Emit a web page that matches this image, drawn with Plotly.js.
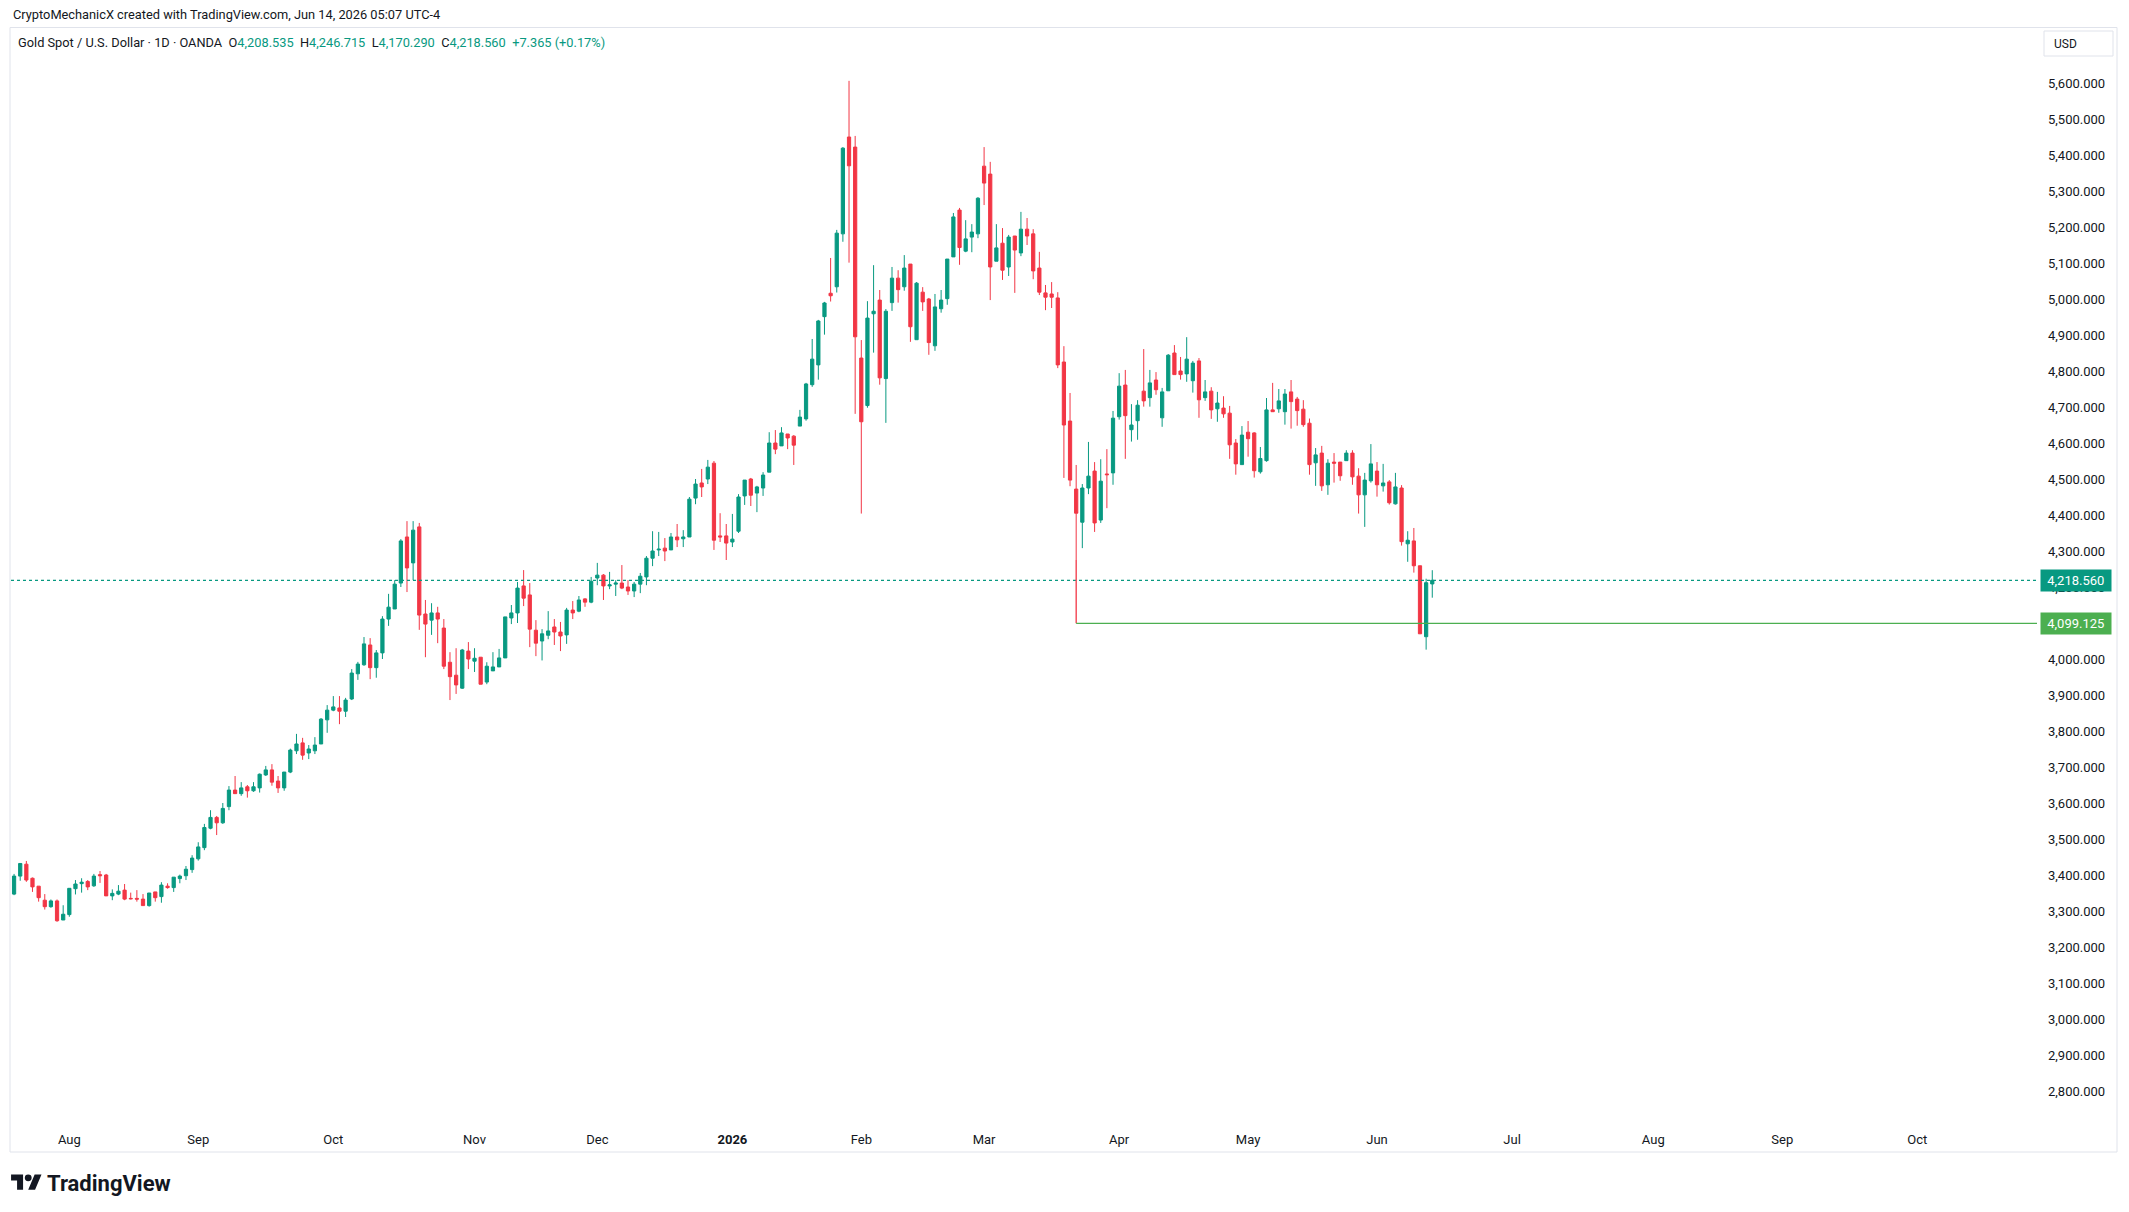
<!DOCTYPE html>
<html>
<head>
<meta charset="utf-8">
<script src="https://cdn.plot.ly/plotly-3.0.1.min.js"></script>
<style>
html,body{margin:0;padding:0;background:#ffffff;}
#chart{width:2129px;height:1212px;position:relative;}
#logo{position:absolute;left:11px;top:1171px;width:31px;height:24px;}
</style>
</head>
<body>
<div id="chart"></div>
<svg id="logo" viewBox="0 0 36 28"><path fill="#131722" d="M14 22H7V11H0V4h14v18zM28 22h-8l7.5-18h8L28 22z"/><circle fill="#131722" cx="20" cy="8" r="4"/></svg>
<script>
// ---- data (daily OHLC, Gold Spot / USD, OANDA) ----
const dates = [
"2025-07-21","2025-07-22","2025-07-23","2025-07-24","2025-07-25","2025-07-28","2025-07-29","2025-07-30","2025-07-31",
"2025-08-01","2025-08-04","2025-08-05","2025-08-06","2025-08-07","2025-08-08","2025-08-11","2025-08-12","2025-08-13","2025-08-14","2025-08-15","2025-08-18","2025-08-19","2025-08-20","2025-08-21","2025-08-22","2025-08-25","2025-08-26","2025-08-27","2025-08-28","2025-08-29",
"2025-09-01","2025-09-02","2025-09-03","2025-09-04","2025-09-05","2025-09-08","2025-09-09","2025-09-10","2025-09-11","2025-09-12","2025-09-15","2025-09-16","2025-09-17","2025-09-18","2025-09-19","2025-09-22","2025-09-23","2025-09-24","2025-09-25","2025-09-26","2025-09-29","2025-09-30",
"2025-10-01","2025-10-02","2025-10-03","2025-10-06","2025-10-07","2025-10-08","2025-10-09","2025-10-10","2025-10-13","2025-10-14","2025-10-15","2025-10-16","2025-10-17","2025-10-20","2025-10-21","2025-10-22","2025-10-23","2025-10-24","2025-10-27","2025-10-28","2025-10-29","2025-10-30","2025-10-31",
"2025-11-03","2025-11-04","2025-11-05","2025-11-06","2025-11-07","2025-11-10","2025-11-11","2025-11-12","2025-11-13","2025-11-14","2025-11-17","2025-11-18","2025-11-19","2025-11-20","2025-11-21","2025-11-24","2025-11-25","2025-11-26","2025-11-27","2025-11-28",
"2025-12-01","2025-12-02","2025-12-03","2025-12-04","2025-12-05","2025-12-08","2025-12-09","2025-12-10","2025-12-11","2025-12-12","2025-12-15","2025-12-16","2025-12-17","2025-12-18","2025-12-19","2025-12-22","2025-12-23","2025-12-24","2025-12-26","2025-12-29","2025-12-30","2025-12-31",
"2026-01-02","2026-01-05","2026-01-06","2026-01-07","2026-01-08","2026-01-09","2026-01-12","2026-01-13","2026-01-14","2026-01-15","2026-01-16","2026-01-19","2026-01-20","2026-01-21","2026-01-22","2026-01-23","2026-01-26","2026-01-27","2026-01-28","2026-01-29","2026-01-30",
"2026-02-02","2026-02-03","2026-02-04","2026-02-05","2026-02-06","2026-02-09","2026-02-10","2026-02-11","2026-02-12","2026-02-13","2026-02-16","2026-02-17","2026-02-18","2026-02-19","2026-02-20","2026-02-23","2026-02-24","2026-02-25","2026-02-26","2026-02-27",
"2026-03-02","2026-03-03","2026-03-04","2026-03-05","2026-03-06","2026-03-09","2026-03-10","2026-03-11","2026-03-12","2026-03-13","2026-03-16","2026-03-17","2026-03-18","2026-03-19","2026-03-20","2026-03-23","2026-03-24","2026-03-25","2026-03-26","2026-03-27","2026-03-30","2026-03-31",
"2026-04-01","2026-04-02","2026-04-06","2026-04-07","2026-04-08","2026-04-09","2026-04-10","2026-04-13","2026-04-14","2026-04-15","2026-04-16","2026-04-17","2026-04-20","2026-04-21","2026-04-22","2026-04-23","2026-04-24","2026-04-27","2026-04-28","2026-04-29","2026-04-30",
"2026-05-01","2026-05-04","2026-05-05","2026-05-06","2026-05-07","2026-05-08","2026-05-11","2026-05-12","2026-05-13","2026-05-14","2026-05-15","2026-05-18","2026-05-19","2026-05-20","2026-05-21","2026-05-22","2026-05-25","2026-05-26","2026-05-27","2026-05-28","2026-05-29",
"2026-06-01","2026-06-02","2026-06-03","2026-06-04","2026-06-05","2026-06-08","2026-06-09","2026-06-10","2026-06-11","2026-06-12"
];
const open = [
3347,3397,3430,3391,3369,3330,3312,3328,3275,
3290,3362,3376,3382,3370,3401,3400,3342,3347,3358,3335,3335,3333,3315,3353,3340,3369,3365,3390,3398,3415,
3445,3476,3530,3560,3545,3590,3636,3626,3645,3634,3642,3678,3692,3661,3642,3686,3745,3767,3739,3745,3764,3831,
3858,3864,3855,3889,3959,3984,4039,3976,4017,4111,4139,4211,4339,4267,4367,4125,4108,4128,4086,3991,3955,3919,4022,
3994,4005,3936,3967,3978,4003,4114,4128,4203,4178,4080,4050,4066,4089,4075,4067,4136,4133,4167,4158,
4225,4233,4203,4208,4211,4200,4189,4208,4228,4280,4303,4308,4303,4339,4334,4339,4447,4489,4500,4544,4342,4342,
4325,4355,4453,4500,4461,4475,4519,4600,4592,4625,4619,4647,4667,4762,4817,4951,5016,5034,5181,5450,5422,
4836,4704,4959,4997,4779,4990,5058,5034,5097,4887,5019,5000,4870,4973,5001,5117,5247,5133,5172,5181,
5369,5347,5105,5155,5089,5175,5128,5194,5181,5086,5017,5014,5003,4825,4661,4472,4380,4475,4522,4386,4514,4517,
4673,4761,4637,4662,4744,4726,4775,4670,4745,4850,4800,4792,4773,4828,4726,4744,4695,4697,4683,4600,4540,
4630,4628,4520,4551,4692,4695,4687,4742,4722,4694,4655,4545,4572,4484,4547,4547,4551,4572,4508,4456,4495,
4522,4481,4492,4431,4475,4320,4328,4259,4062,4208.535
];
const high = [
3403,3432,3439,3393,3369,3347,3332,3332,3316,
3363,3386,3391,3386,3403,3411,3403,3360,3372,3375,3351,3358,3347,3350,3353,3380,3377,3394,3401,3425,3455,
3491,3542,3580,3564,3600,3647,3675,3658,3650,3658,3682,3703,3708,3675,3686,3751,3792,3781,3761,3783,3836,3872,
3897,3897,3892,3972,3992,4061,4058,4025,4119,4181,4219,4333,4383,4383,4378,4164,4155,4145,4111,4019,4030,4028,4047,
4030,4005,3991,4019,4028,4117,4150,4214,4247,4211,4108,4083,4133,4111,4103,4142,4161,4175,4169,4228,
4267,4236,4242,4219,4261,4219,4214,4239,4286,4355,4353,4336,4350,4375,4358,4450,4500,4528,4553,4550,4405,4375,
4403,4458,4497,4503,4481,4519,4630,4636,4644,4625,4622,4692,4767,4889,4942,4992,5114,5192,5422,5606,5453,
4886,4994,5094,5025,4972,5089,5080,5122,5097,5047,5033,5003,5014,5025,5111,5239,5253,5219,5208,5283,
5422,5381,5208,5197,5178,5175,5242,5225,5194,5131,5039,5047,5019,4869,4739,4539,4486,4603,4547,4555,4583,4689,
4794,4803,4708,4719,4861,4803,4797,4753,4847,4872,4839,4894,4828,4836,4775,4755,4742,4730,4703,4611,4647,
4661,4630,4589,4725,4767,4750,4750,4775,4728,4719,4668,4586,4592,4555,4572,4547,4580,4580,4530,4517,4597,
4547,4542,4497,4517,4483,4355,4364,4259,4223,4246.715
];
const low = [
3344,3384,3381,3353,3326,3304,3309,3270,3275,
3284,3346,3351,3358,3367,3378,3342,3330,3344,3330,3332,3326,3315,3312,3326,3323,3362,3353,3377,3386,3406,
3440,3469,3527,3511,3542,3580,3626,3620,3615,3631,3629,3675,3648,3628,3634,3683,3736,3720,3722,3736,3764,3795,
3855,3819,3839,3886,3942,3981,3944,3948,4000,4092,4139,4200,4186,4219,4081,4005,4067,4044,3972,3886,3903,3917,3972,
3964,3930,3930,3967,3978,4003,4097,4100,4147,4033,4008,3996,4055,4039,4022,4042,4111,4130,4145,4155,
4205,4164,4194,4175,4194,4178,4172,4183,4205,4258,4286,4272,4303,4311,4311,4339,4430,4450,4486,4303,4325,4275,
4311,4350,4428,4425,4408,4453,4519,4569,4592,4583,4539,4647,4662,4756,4776,4901,4993,5018,5159,5101,4681,
4404,4698,4851,4762,4656,4967,4990,5023,4881,4887,4967,4845,4856,4962,4984,5117,5095,5130,5130,5169,
5261,4997,5105,5053,5064,5017,5119,5150,5055,5011,4969,4975,4808,4503,4480,4275,4308,4458,4353,4378,4419,4484,
4665,4556,4604,4609,4701,4701,4734,4645,4745,4790,4776,4770,4740,4670,4717,4667,4659,4670,4556,4512,4540,
4562,4504,4515,4548,4687,4684,4651,4640,4648,4645,4512,4481,4467,4456,4490,4495,4551,4484,4404,4367,4490,
4451,4465,4429,4429,4315,4270,4240,4070,4026,4170.290
];
const close = [
3397,3432,3386,3367,3337,3312,3328,3273,3291,
3363,3375,3380,3367,3397,3398,3342,3349,3355,3333,3334,3333,3315,3350,3337,3372,3365,3394,3397,3416,3447,
3478,3532,3560,3545,3585,3636,3626,3642,3634,3645,3680,3692,3658,3642,3686,3747,3764,3733,3750,3761,3833,3858,
3867,3855,3886,3961,3986,4042,3976,4017,4111,4144,4208,4328,4253,4358,4122,4097,4128,4111,3980,3951,3928,4025,4000,
4002,3930,3980,3978,4003,4117,4128,4197,4169,4083,4044,4070,4078,4075,4064,4136,4128,4164,4158,4216,
4233,4203,4206,4211,4197,4189,4208,4230,4280,4300,4305,4300,4339,4331,4339,4444,4486,4478,4533,4330,4339,4322,
4333,4450,4497,4455,4478,4511,4600,4583,4628,4614,4594,4672,4764,4833,4939,4989,5009,5183,5419,5370,4895,
4659,4947,4966,4781,4966,5058,5026,5086,4923,5044,4992,4879,4978,4997,5111,5228,5143,5167,5186,5280,
5322,5089,5142,5080,5172,5136,5194,5175,5078,5019,5005,5005,4817,4650,4497,4405,4475,4508,4378,4494,4512,4669,
4758,4676,4650,4705,4717,4767,4748,4742,4844,4790,4790,4833,4822,4720,4742,4692,4711,4681,4595,4542,4622,
4612,4523,4557,4692,4687,4717,4736,4715,4690,4651,4540,4567,4481,4544,4544,4509,4572,4506,4456,4497,4542,
4484,4489,4434,4478,4326,4330,4259,4070,4212,4218.560
];
const lastClose = 4218.560;
const markedLevel = 4099.125;
const markedDate = "2026-03-23";
const markedLow = 4275;
const holidays = ["2025-12-25","2026-01-01","2026-04-03"];
const tickDates = ["2025-08-01","2025-09-01","2025-10-01","2025-11-03","2025-12-01","2026-01-02","2026-02-02","2026-03-02","2026-04-01","2026-05-01","2026-06-01","2026-07-01","2026-08-03","2026-09-01","2026-10-01"];
const tickLabels = ["Aug","Sep","Oct","Nov","Dec","<b>2026</b>","Feb","Mar","Apr","May","Jun","Jul","Aug","Sep","Oct"];
// price scale labels (4,100 is hidden behind the 4,099.125 marker in the reference)
const priceTicks = [2800,2900,3000,3100,3200,3300,3400,3500,3600,3700,3800,3900,4000,4200,4300,4400,4500,4600,4700,4800,4900,5000,5100,5200,5300,5400,5500,5600];

// ---- geometry helpers (pixel layout of the reference) ----
const W = 2129, H = 1212;
const PL = 11, PR = 2037, PT = 28, PB = 1122;
const px = x => (x - PL) / (PR - PL);
const py = y => (PB - y) / (PB - PT);
const noon = d => d + " 12:00";

const UP = "#089981", DN = "#F23645", TXT = "#131722", BORDER = "#e0e3eb";
const FONT = "Roboto, 'Liberation Sans', Arial, sans-serif";

const trace = {
  type: "candlestick",
  x: dates.map(noon),
  open: open, high: high, low: low, close: close,
  increasing: {line: {color: UP, width: 1}, fillcolor: UP},
  decreasing: {line: {color: DN, width: 1}, fillcolor: DN},
  whiskerwidth: 0,
  hoverinfo: "skip",
  showlegend: false
};

const nb = "\u00a0";
const legendText = "Gold Spot / U.S. Dollar · 1D · OANDA" + nb + nb +
  "O<span style=\"color:" + UP + "\">4,208.535</span>" + nb + nb +
  "H<span style=\"color:" + UP + "\">4,246.715</span>" + nb + nb +
  "L<span style=\"color:" + UP + "\">4,170.290</span>" + nb + nb +
  "C<span style=\"color:" + UP + "\">4,218.560</span>" + nb + nb +
  "<span style=\"color:" + UP + "\">+7.365 (+0.17%)</span>";

const layout = {
  width: W, height: H,
  margin: {l: PL, r: W - PR, t: PT, b: H - PB, pad: 0},
  paper_bgcolor: "#ffffff", plot_bgcolor: "#ffffff",
  font: {family: FONT, size: 13, color: TXT},
  showlegend: false,
  boxgap: 0.25,
  dragmode: false,
  xaxis: {
    type: "date",
    range: ["2025-07-21 00:00", "2026-10-29 00:00"],
    rangebreaks: [{bounds: ["sat", "mon"]}, {values: holidays}],
    rangeslider: {visible: false},
    tickmode: "array",
    tickvals: tickDates.map(noon),
    ticktext: tickLabels,
    showgrid: false, zeroline: false, showline: false, ticks: "",
    ticklabelstandoff: 8,
    tickfont: {family: FONT, size: 13, color: TXT},
    fixedrange: true
  },
  yaxis: {
    side: "right",
    range: [2713.9, 5752.8],
    tickmode: "array",
    tickvals: priceTicks,
    tickformat: ",.3f",
    showgrid: false, zeroline: false, showline: false, ticks: "",
    ticklabelstandoff: 10,
    tickfont: {family: FONT, size: 13, color: TXT},
    fixedrange: true
  },
  shapes: [
    // pane border
    {type: "rect", xref: "paper", yref: "paper", x0: px(10), x1: px(2117), y0: py(1152), y1: py(27.5),
     line: {color: BORDER, width: 1}, fillcolor: "rgba(0,0,0,0)", layer: "below"},
    // last price dotted line
    {type: "line", xref: "paper", yref: "y", x0: 0, x1: 1, y0: lastClose, y1: lastClose,
     line: {color: UP, width: 1.2, dash: "dot"}},
    // marked level drawing
    {type: "line", xref: "x", yref: "y", x0: noon(markedDate), x1: noon(markedDate), y0: markedLow, y1: markedLevel,
     line: {color: DN, width: 1.3}},
    {type: "line", xref: "x", yref: "y", x0: noon(markedDate), x1: "2026-10-29 00:00", y0: markedLevel, y1: markedLevel,
     line: {color: "#4caf50", width: 1.3}},
    // USD box
    {type: "rect", xref: "paper", yref: "paper", x0: px(2044), x1: px(2113), y0: py(56), y1: py(31),
     line: {color: BORDER, width: 1}, fillcolor: "#ffffff"}
  ],
  annotations: [
    {xref: "paper", yref: "paper", x: px(11), y: py(15), xanchor: "left", yanchor: "middle",
     text: "CryptoMechanicX created with TradingView.com, Jun 14, 2026 05:07 UTC-4", showarrow: false,
     font: {family: FONT, size: 12.8, color: TXT}},
    {xref: "paper", yref: "paper", x: px(16), y: py(42), xanchor: "left", yanchor: "middle",
     text: legendText, showarrow: false, font: {family: FONT, size: 12.8, color: TXT}},
    {xref: "paper", yref: "paper", x: px(2052), y: py(43.5), xanchor: "left", yanchor: "middle",
     text: "USD", showarrow: false, font: {family: FONT, size: 12, color: TXT}},
    {xref: "paper", yref: "y", x: px(2040), y: lastClose, xanchor: "left", yanchor: "middle",
     text: nb + "4,218.560" + nb, showarrow: false, bgcolor: UP, borderpad: 3,
     font: {family: FONT, size: 13, color: "#ffffff"}},
    {xref: "paper", yref: "y", x: px(2040), y: markedLevel, xanchor: "left", yanchor: "middle",
     text: nb + "4,099.125" + nb, showarrow: false, bgcolor: "#4caf50", borderpad: 3,
     font: {family: FONT, size: 13, color: "#ffffff"}},
    {xref: "paper", yref: "paper", x: px(45), y: py(1183), xanchor: "left", yanchor: "middle",
     text: "<b>TradingView</b>", showarrow: false, font: {family: FONT, size: 22, color: TXT}}
  ]
};

Plotly.newPlot("chart", [trace], layout, {staticPlot: true, displayModeBar: false});
</script>
</body>
</html>
